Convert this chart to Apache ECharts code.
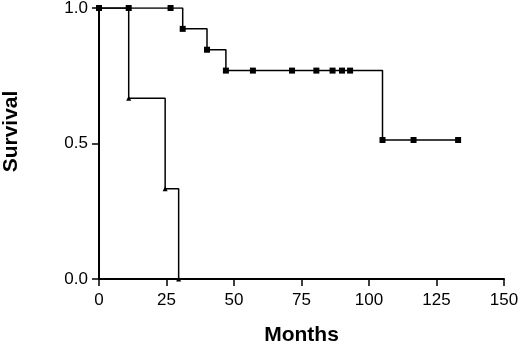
<!DOCTYPE html>
<html>
<head>
<meta charset="utf-8">
<script src="https://cdn.jsdelivr.net/npm/echarts@6/dist/echarts.min.js"></script>
<style>
  html, body { margin: 0; padding: 0; background: #fff; }
  #chart { width: 520px; height: 343px; }
</style>
</head>
<body>
<div id="chart"></div>
<script>
"use strict";

// group 1 (squares): [months, survival]
var squareData = [
    [0, 1], [11, 1], [26.5, 1], [31, 0.923], [40, 0.846], [47, 0.769],
    [57, 0.769], [71.5, 0.769], [80.5, 0.769], [86.5, 0.769], [90, 0.769],
    [93, 0.769], [105, 0.513], [116.5, 0.513], [133, 0.513]
];
// group 2 (triangles)
var triangleData = [
    [0, 1], [11, 0.667], [24.5, 0.333], [29.5, 0]
];
var xTicks = [0, 25, 50, 75, 100, 125, 150];
var yTicks = [0, 0.5, 1];

var chart = echarts.init(document.getElementById('chart'));
chart.setOption({
    animation: false,
    grid: {
        left: 99,
        right: 16,
        top: 8,
        bottom: 64,
        outerBoundsMode: 'none',
        containLabel: false
    },
    xAxis: {
        type: 'value',
        min: xTicks[0],
        max: xTicks[xTicks.length - 1],
        interval: 25,
        name: 'Months',
        nameLocation: 'middle',
        nameGap: 46,
        nameTextStyle: {
            fontFamily: 'Liberation Sans',
            fontWeight: 'bold',
            fontSize: 21,
            color: '#000'
        },
        axisLine: { lineStyle: { color: '#000', width: 2 } },
        axisTick: { length: 7, lineStyle: { color: '#000', width: 1.5 } },
        axisLabel: {
            margin: 13,
            fontFamily: 'Liberation Sans',
            fontSize: 17,
            color: '#000'
        },
        splitLine: { show: false }
    },
    yAxis: {
        type: 'value',
        min: yTicks[0],
        max: yTicks[yTicks.length - 1],
        interval: 0.5,
        name: 'Survival',
        nameLocation: 'middle',
        nameGap: 77,
        nameTextStyle: {
            fontFamily: 'Liberation Sans',
            fontWeight: 'bold',
            fontSize: 21,
            color: '#000',
            padding: [0, 0, 0, 24]
        },
        axisLine: { show: true, lineStyle: { color: '#000', width: 2 } },
        axisTick: { show: true, length: 7, lineStyle: { color: '#000', width: 1.5 } },
        axisLabel: {
            margin: 11,
            fontFamily: 'Liberation Sans',
            fontSize: 17,
            color: '#000',
            formatter: function (v) { return v.toFixed(1); }
        },
        splitLine: { show: false }
    },
    series: [{
        type: 'line',
        step: 'end',
        data: squareData,
        symbol: 'rect',
        symbolSize: 6,
        lineStyle: { color: '#000', width: 1.5 },
        itemStyle: { color: '#000' }
    }, {
        type: 'line',
        step: 'end',
        data: triangleData,
        symbol: 'triangle',
        symbolSize: 5,
        lineStyle: { color: '#000', width: 1.5 },
        itemStyle: { color: '#000' }
    }]
});
</script>
</body>
</html>
